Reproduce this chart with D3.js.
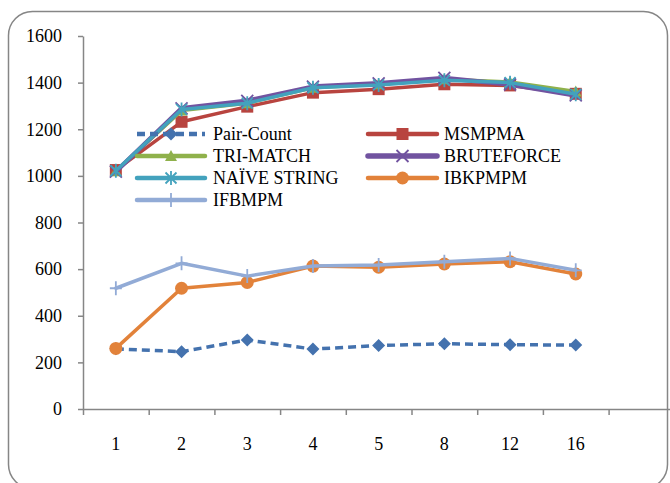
<!DOCTYPE html>
<html>
<head>
<meta charset="utf-8">
<script src="https://cdn.jsdelivr.net/npm/d3@7"></script>
<style>
  html, body { margin: 0; padding: 0; background: #fff; }
  svg { display: block; }
</style>
</head>
<body>
<svg id="chart" width="670" height="483"></svg>
<script>
// Thread counts on the category axis
const categories = ["1", "2", "3", "4", "5", "8", "12", "16"];

// Execution time per algorithm
const pairCount   = [258, 246, 296, 257, 272, 280, 276, 274];
const msmpma      = [1025, 1232, 1297, 1357, 1372, 1393, 1388, 1352];
const triMatch    = [1020, 1280, 1312, 1378, 1393, 1415, 1403, 1362];
const bruteForce  = [1018, 1290, 1322, 1383, 1397, 1420, 1392, 1345];
const naiveString = [1022, 1285, 1312, 1378, 1390, 1410, 1400, 1350];
const ibkpmpm     = [260, 518, 543, 613, 608, 622, 632, 579];
const ifbmpm      = [518, 625, 570, 613, 618, 632, 646, 595];

const yTicks = [0, 200, 400, 600, 800, 1000, 1200, 1400, 1600];

const seriesNames = ["Pair-Count", "MSMPMA", "TRI-MATCH", "BRUTEFORCE", "NAÏVE STRING", "IBKPMPM", "IFBMPM"];
const seriesValues = [pairCount, msmpma, triMatch, bruteForce, naiveString, ibkpmpm, ifbmpm];

const styles = [
  { color: "#4472AE", width: 3.5, dash: "8,5", marker: "diamond" },
  { color: "#B8443F", width: 3.5, dash: null,  marker: "square" },
  { color: "#8FB14B", width: 3.5, dash: null,  marker: "triangle" },
  { color: "#7153A0", width: 4.5, dash: null,  marker: "cross" },
  { color: "#43A2BD", width: 3.5, dash: null,  marker: "star" },
  { color: "#E2823A", width: 3.5, dash: null,  marker: "circle" },
  { color: "#92ABD6", width: 3.5, dash: null,  marker: "plus" }
];

const FONT = "Liberation Serif";

const series = seriesNames.map((name, i) => ({ name, values: seriesValues[i], style: styles[i] }));

const svg = d3.select("#chart");

// Outer rounded frame
svg.append("rect")
  .attr("x", 8.5).attr("y", 11.5)
  .attr("width", 659).attr("height", 477)
  .attr("rx", 24).attr("ry", 24)
  .attr("fill", "#fff")
  .attr("stroke", "#868686")
  .attr("stroke-width", 1.5);

const plotLeft = 83, plotTop = 36, plotBottom = 409;
const slots = categories.length + 1;
const slotWidth = 65.7;

// Category slots (one extra empty slot at the right, as on the axis)
const xBand = d3.scaleBand()
  .domain(d3.range(slots))
  .range([plotLeft, plotLeft + slots * slotWidth])
  .paddingInner(0).paddingOuter(0);
const xEdge = d3.scaleLinear()
  .domain([0, slots])
  .range([plotLeft, plotLeft + slots * slotWidth]);
const xMid = i => xBand(i) + xBand.bandwidth() / 2;

const y = d3.scaleLinear().domain([0, 1600]).range([plotBottom, plotTop]);

// Y axis
const yAxis = svg.append("g")
  .attr("transform", `translate(${plotLeft},0)`)
  .call(d3.axisLeft(y).tickValues(yTicks).tickFormat(d3.format("d"))
    .tickSize(5).tickPadding(16).tickSizeOuter(0));

// X axis: tick marks on slot boundaries
const xTickAxis = svg.append("g")
  .attr("transform", `translate(0,${plotBottom})`)
  .call(d3.axisBottom(xEdge).tickValues(d3.range(slots + 1)).tickFormat("").tickSize(6).tickSizeOuter(0));

// X axis labels centred in each slot
const xLabelAxis = svg.append("g")
  .attr("transform", `translate(0,${plotBottom})`)
  .call(d3.axisBottom(xBand).tickSize(0).tickPadding(28).tickFormat(i => categories[i] || ""));
xLabelAxis.select(".domain").remove();

[yAxis, xLabelAxis].forEach(g => {
  g.attr("font-family", FONT).attr("font-size", 18);
  g.selectAll("text")
    .attr("font-family", FONT)
    .style("font-family", FONT)
    .style("font-size", "18px")
    .attr("fill", "#000");
});

[yAxis, xTickAxis].forEach(g => {
  g.selectAll(".domain, .tick line").attr("stroke", "#868686").attr("stroke-width", 1.5);
});

// Marker shapes
function drawMarker(g, type, color, cx, cy) {
  const s = g.append("g").attr("transform", `translate(${cx},${cy})`);
  switch (type) {
    case "diamond":
      s.append("path").attr("d", "M0,-6.5L6.5,0L0,6.5L-6.5,0Z").attr("fill", color);
      break;
    case "square":
      s.append("rect").attr("x", -6).attr("y", -6).attr("width", 12).attr("height", 12).attr("fill", color);
      break;
    case "triangle":
      s.append("path").attr("d", "M0,-6L6,5L-6,5Z").attr("fill", color);
      break;
    case "cross":
      s.append("path").attr("d", "M-6,-6L6,6M-6,6L6,-6").attr("stroke", color).attr("stroke-width", 1.8).attr("fill", "none");
      break;
    case "star":
      s.append("path").attr("d", "M-5.5,-5.5L5.5,5.5M-5.5,5.5L5.5,-5.5M0,-7L0,7").attr("stroke", color).attr("stroke-width", 1.8).attr("fill", "none");
      break;
    case "circle":
      s.append("circle").attr("r", 6.5).attr("fill", color);
      break;
    case "plus":
      s.append("path").attr("d", "M0,-7L0,7M-6,0L6,0").attr("stroke", color).attr("stroke-width", 1.8).attr("fill", "none");
      break;
  }
}

const line = d3.line().x((d, i) => xMid(i)).y(d => y(d));

// Series lines and markers
series.forEach(s => {
  const g = svg.append("g").attr("class", "series");
  g.append("path")
    .datum(s.values)
    .attr("d", line)
    .attr("fill", "none")
    .attr("stroke", s.style.color)
    .attr("stroke-width", s.style.width)
    .attr("stroke-linejoin", "round")
    .attr("stroke-linecap", s.style.dash ? "butt" : "round")
    .attr("stroke-dasharray", s.style.dash);
  s.values.forEach((v, i) => drawMarker(g, s.style.marker, s.style.color, xMid(i), y(v)));
});

// Legend in two columns
const legendCols = [{ x1: 137, x2: 205, tx: 213 }, { x1: 368, x2: 437, tx: 444 }];
const legendRowY = [134, 156, 178, 200];
series.forEach((s, i) => {
  const col = legendCols[i % 2];
  const ry = legendRowY[Math.floor(i / 2)];
  const g = svg.append("g").attr("class", "legend-item");
  g.append("line")
    .attr("x1", col.x1).attr("x2", col.x2).attr("y1", ry).attr("y2", ry)
    .attr("stroke", s.style.color)
    .attr("stroke-width", s.style.width + 1)
    .attr("stroke-linecap", s.style.dash ? "butt" : "round")
    .attr("stroke-dasharray", s.style.dash);
  drawMarker(g, s.style.marker, s.style.color, (col.x1 + col.x2) / 2, ry);
  g.append("text")
    .attr("x", col.tx).attr("y", ry)
    .attr("dy", "0.35em")
    .attr("font-family", FONT)
    .style("font-family", FONT)
    .style("font-size", "18px")
    .attr("fill", "#000")
    .text(s.name);
});
</script>
</body>
</html>
